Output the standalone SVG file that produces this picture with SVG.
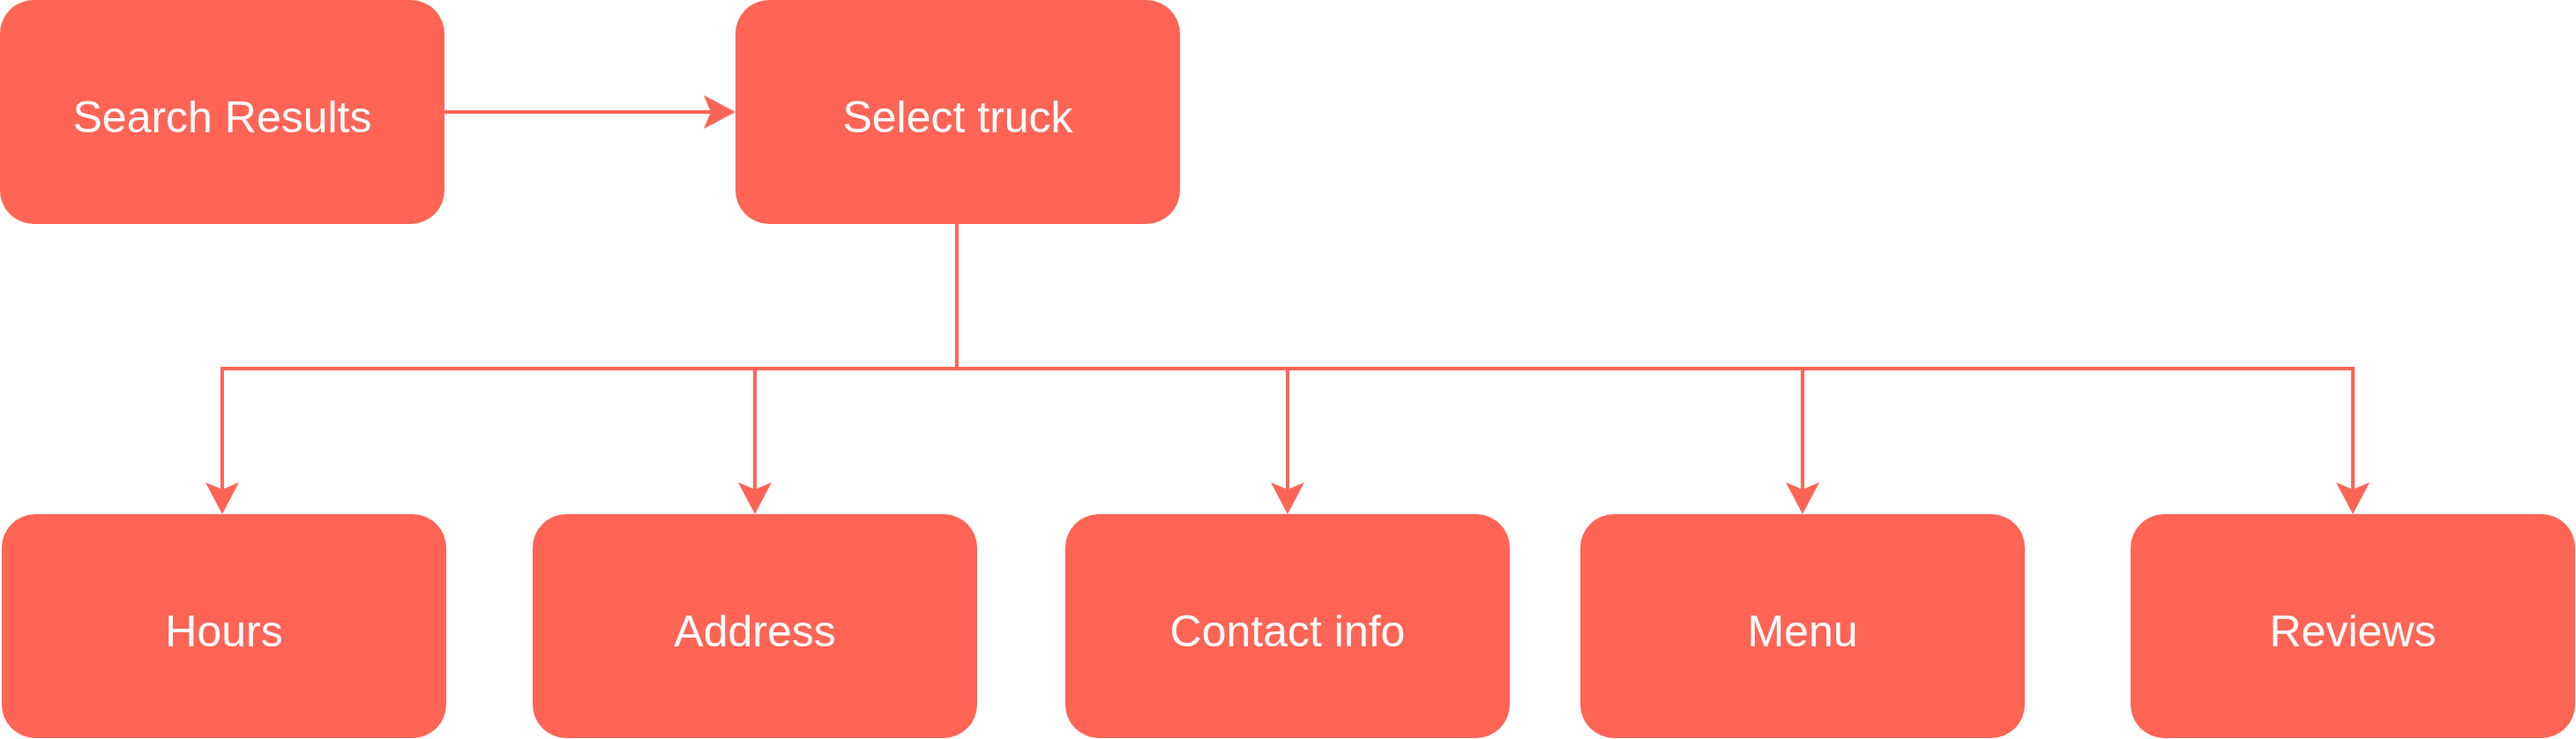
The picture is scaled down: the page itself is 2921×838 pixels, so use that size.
<svg xmlns="http://www.w3.org/2000/svg" width="2921" height="838" viewBox="0 0 2921 838">
<style>
.box{fill:#FF6455;}
.lbl{font-family:"Liberation Sans",Arial,Helvetica,sans-serif;font-size:50px;fill:#FFFFFF;text-anchor:middle;}
.edge{fill:none;stroke:#FF6455;stroke-width:4;marker-end:url(#arr);}
</style>
<defs>
<marker id="arr" markerUnits="userSpaceOnUse" markerWidth="40" markerHeight="40" viewBox="0 0 40 40" refX="8" refY="20" orient="auto">
<path d="M0,1 L36,20 L0,39 L8,20 Z" fill="#FF6455"/>
</marker>
</defs>
<rect width="2921" height="838" fill="#FFFFFF"/>
<g id="connectors">
<path class="edge" d="M504,127 L806,127"/>
<path class="edge" d="M1085,254 L1085,418 L252,418 L252,555"/>
<path class="edge" d="M1085,254 L1085,418 L856,418 L856,555"/>
<path class="edge" d="M1085,254 L1085,418 L1460,418 L1460,555"/>
<path class="edge" d="M1085,254 L1085,418 L2044,418 L2044,555"/>
<path class="edge" d="M1085,254 L1085,418 L2668,418 L2668,555"/>
</g>
<g id="search-results"><rect class="box" x="0" y="0" width="504" height="254" rx="38" ry="38"/><text class="lbl" x="252" y="150">Search Results</text></g>
<g id="select-truck"><rect class="box" x="834" y="0" width="504" height="254" rx="38" ry="38"/><text class="lbl" x="1086" y="150">Select truck</text></g>
<g id="hours"><rect class="box" x="2" y="583" width="504" height="254" rx="38" ry="38"/><text class="lbl" x="254" y="733">Hours</text></g>
<g id="address"><rect class="box" x="604" y="583" width="504" height="254" rx="38" ry="38"/><text class="lbl" x="856" y="733">Address</text></g>
<g id="contact-info"><rect class="box" x="1208" y="583" width="504" height="254" rx="38" ry="38"/><text class="lbl" x="1460" y="733">Contact info</text></g>
<g id="menu"><rect class="box" x="1792" y="583" width="504" height="254" rx="38" ry="38"/><text class="lbl" x="2044" y="733">Menu</text></g>
<g id="reviews"><rect class="box" x="2416" y="583" width="504" height="254" rx="38" ry="38"/><text class="lbl" x="2668" y="733">Reviews</text></g>
</svg>
